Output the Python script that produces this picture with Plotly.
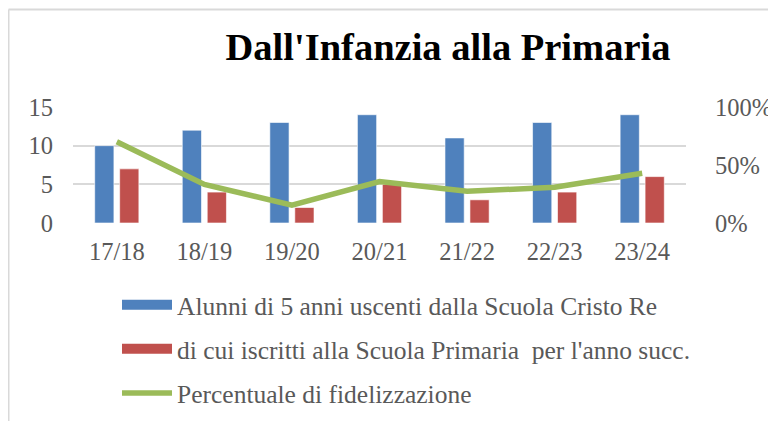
import plotly.graph_objects as go

categories = ["17/18", "18/19", "19/20", "20/21", "21/22", "22/23", "23/24"]
alunni = [10, 12, 13, 14, 11, 13, 14]
iscritti = [7, 4, 2, 5, 3, 4, 6]
percentuale = [0.70, 0.333, 0.154, 0.357, 0.273, 0.308, 0.429]

names = [
    "Alunni di 5 anni uscenti dalla Scuola Cristo Re",
    "di cui iscritti alla Scuola Primaria  per l'anno succ.",
    "Percentuale di fidelizzazione",
]

FONT = "Liberation Serif"
GRAY = "#595959"
BLUE, RED, GREEN = "#4F81BD", "#C0504D", "#9BBB59"

# the page body has an 8px margin, so the figure is 768x413 placed at (8, 8)
W, H = 768, 413
L, R, T, B = 65, 90, 99, 198
PW, PH = W - L - R, H - T - B

fig = go.Figure()
fig.add_trace(go.Bar(x=categories, y=alunni, name=names[0], showlegend=False,
                     marker=dict(color=BLUE, line=dict(color="rgba(255,255,255,0.6)", width=1)),
                     legendgroup="a"))
fig.add_trace(go.Bar(x=categories, y=iscritti, name=names[1], showlegend=False,
                     marker=dict(color=RED, line=dict(color="rgba(255,255,255,0.6)", width=1)),
                     legendgroup="b"))
fig.add_trace(go.Scatter(x=categories, y=percentuale, name=names[2], yaxis="y2", mode="lines",
                         line=dict(color=GREEN, width=5.5), legendgroup="c", showlegend=False))

# legend entries (wide swatches like the original chart's legend keys)
fig.add_trace(go.Scatter(x=[None], y=[None], name=names[0], mode="lines", legendgroup="a",
                         line=dict(color=BLUE, width=12)))
fig.add_trace(go.Scatter(x=[None], y=[None], name=names[1], mode="lines", legendgroup="b",
                         line=dict(color=RED, width=12)))
fig.add_trace(go.Scatter(x=[None], y=[None], name=names[2], mode="lines", legendgroup="c",
                         line=dict(color=GREEN, width=5.5)))

fig.update_layout(
    width=W, height=H,
    margin=dict(l=L, r=R, t=T, b=B, autoexpand=False),
    paper_bgcolor="white", plot_bgcolor="white",
    font=dict(family=FONT, color=GRAY, size=24),
    barmode="group", bargap=0.43, bargroupgap=0.23,
    title=dict(text="<b>Dall'Infanzia alla Primaria</b>", xref="container", yref="container",
               x=440 / W, xanchor="center", y=1 - 39 / H, yanchor="middle",
               font=dict(family=FONT, size=38.5, color="black")),
    xaxis=dict(showgrid=False, showline=False, zeroline=False, ticks="outside", ticklen=7,
               tickcolor="rgba(0,0,0,0)", tickfont=dict(size=24.5, color=GRAY)),
    yaxis=dict(range=[0, 15], tickvals=[0, 5, 10, 15], showgrid=True, gridcolor="#D9D9D9", gridwidth=1.5,
               zeroline=False, showline=False, ticks="outside", ticklen=14, tickcolor="rgba(0,0,0,0)",
               tickfont=dict(size=24.5, color=GRAY)),
    yaxis2=dict(range=[0, 1], tickvals=[0, 0.5, 1], tickformat=".0%", overlaying="y", side="right",
                showgrid=False, zeroline=False, showline=False, ticks="outside", ticklen=23,
                tickcolor="rgba(0,0,0,0)", tickfont=dict(size=24.5, color=GRAY)),
    legend=dict(orientation="v", x=(117 - 73) / PW, xanchor="left", y=-0.505, yanchor="top",
                font=dict(size=25.5, color=GRAY), itemwidth=50, tracegroupgap=8,
                traceorder="grouped", bgcolor="rgba(0,0,0,0)"),
    showlegend=True,
)

# chart frame lines (top and left), in page pixels converted to plot-area paper coords
top_y = (H - B - (9.5 - 8)) / PH
left_x = (8.5 - 8 - L) / PW
fig.add_shape(type="line", xref="paper", yref="paper", x0=left_x, x1=(W - L) / PW + 0.01, y0=top_y, y1=top_y,
              line=dict(color="#D9D9D9", width=2))
fig.add_shape(type="line", xref="paper", yref="paper", x0=left_x, x1=left_x, y0=top_y, y1=-B / PH - 0.01,
              line=dict(color="#D9D9D9", width=2))

fig.write_html("out.html")
